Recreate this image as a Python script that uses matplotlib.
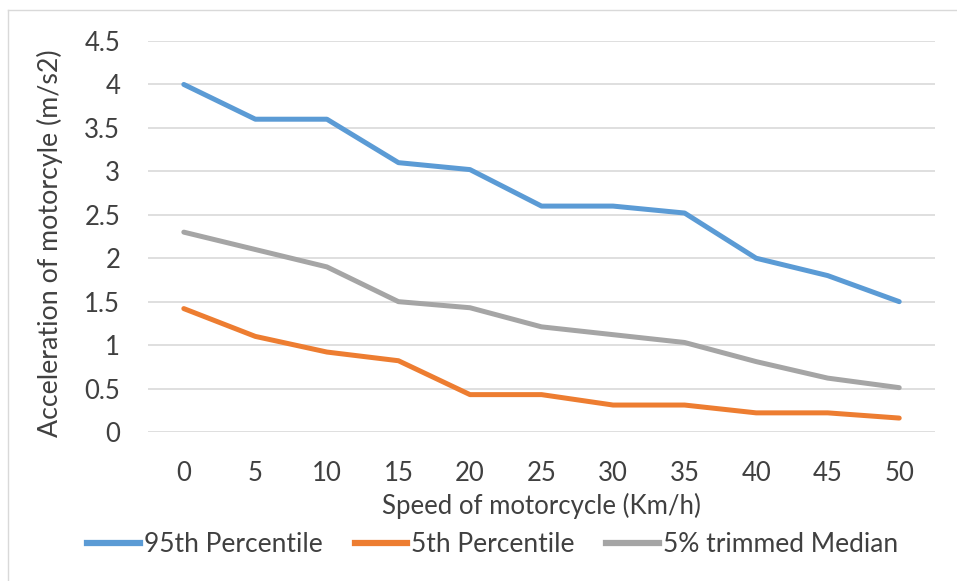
import matplotlib
matplotlib.use("Agg")
import matplotlib.pyplot as plt
from matplotlib.lines import Line2D

speed = [0, 5, 10, 15, 20, 25, 30, 35, 40, 45, 50]
p95 = [4.0, 3.6, 3.6, 3.1, 3.02, 2.6, 2.6, 2.52, 2.0, 1.8, 1.5]
p5 = [1.42, 1.1, 0.92, 0.82, 0.43, 0.43, 0.31, 0.31, 0.22, 0.22, 0.16]
median = [2.3, 2.1, 1.9, 1.5, 1.43, 1.21, 1.12, 1.03, 0.81, 0.62, 0.51]
yticks = [0, 0.5, 1, 1.5, 2, 2.5, 3, 3.5, 4, 4.5]
ytick_labels = ["0", "0.5", "1", "1.5", "2", "2.5", "3", "3.5", "4", "4.5"]

plt.rcParams['font.family'] = ['Lato', 'DejaVu Sans']
text_col = '#404040'
fs = 18.5

fig = plt.figure(figsize=(9.57, 5.81), dpi=100)
ax = fig.add_axes([0.1547, 0.2565, 0.8223, 0.6729])

ax.plot(speed, p95, color='#5B9BD5', lw=3.6, solid_capstyle='round', solid_joinstyle='round', label='95th Percentile')
ax.plot(speed, p5, color='#ED7D31', lw=3.6, solid_capstyle='round', solid_joinstyle='round', label='5th Percentile')
ax.plot(speed, median, color='#A5A5A5', lw=3.6, solid_capstyle='round', solid_joinstyle='round', label='5% trimmed Median')

ax.set_xlim(-2.5, 52.5)
ax.set_ylim(0, 4.5)
ax.set_yticks(yticks)
ax.set_yticklabels(ytick_labels)
ax.set_xticks(speed)
ax.set_xticklabels([str(s) for s in speed])
ax.grid(axis='y', color='#D9D9D9', lw=1.2)
ax.set_axisbelow(True)
for s in ax.spines.values():
    s.set_visible(False)
ax.tick_params(length=0, labelsize=fs, colors=text_col)
ax.tick_params(axis='x', pad=21)
ax.tick_params(axis='y', pad=20)

ax.set_xlabel('Speed of motorcycle (Km/h)', fontsize=fs, color=text_col, labelpad=5)
ax.set_ylabel('Acceleration of motorcyle (m/s2)', fontsize=19.3, color=text_col)
ax.yaxis.set_label_coords(-0.108, 0.483)

handles = [Line2D([], [], color=c, lw=4.5) for c in ['#5B9BD5', '#ED7D31', '#A5A5A5']]
fig.legend(handles, ['95th Percentile', '5th Percentile', '5% trimmed Median'],
           loc='center', bbox_to_anchor=(0.515, 0.062), ncol=3, frameon=False,
           fontsize=19, handlelength=2.0, handletextpad=0.15, columnspacing=1.2,
           labelcolor=text_col)

# outer chart border (left and top visible)
fig.add_artist(Line2D([8 / 957, 8 / 957], [0, 1 - 10 / 581], transform=fig.transFigure, color='#D9D9D9', lw=1))
fig.add_artist(Line2D([8 / 957, 1], [1 - 10 / 581, 1 - 10 / 581], transform=fig.transFigure, color='#D9D9D9', lw=1))

fig.savefig('out.png', dpi=100)
